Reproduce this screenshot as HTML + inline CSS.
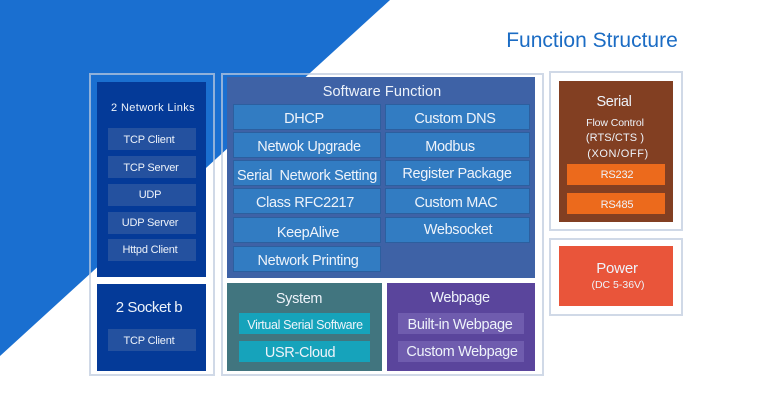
<!DOCTYPE html>
<html>
<head>
<meta charset="utf-8">
<style>
html,body{margin:0;padding:0;background:#fff;}
#c{position:relative;width:760px;height:401px;overflow:hidden;background:#fff;font-family:"Liberation Sans",sans-serif;color:#eef3fa;}
#c svg{position:absolute;left:0;top:0;}
.b,.t{position:absolute;box-sizing:border-box;}
.t{white-space:nowrap;text-align:center;transform:translateX(-50%);line-height:1;}
.l{font-size:14.5px;letter-spacing:-.33px;}
.m{font-size:11px;letter-spacing:-.2px;}
.o{border:2px solid rgba(190,203,222,.72);}
.d{background:#043a98;}
.s{background:#24519f;}
.c{background:#327cc2;border:1px solid #2c5f9f;}
.y{background:#16a3bb;}
.w{background:#6f5cae;}
.r{background:#ec6a1c;}
</style>
</head>
<body>
<div id="c">
<svg width="760" height="401"><polygon points="0,0 390,0 0,356" fill="#1a6fd0"/></svg>

<div class="t" style="left:592px;top:30px;font-size:21px;color:#1b6cc4;">Function Structure</div>

<div class="b o" style="left:89px;top:73px;width:126px;height:303px;"></div>
<div class="b o" style="left:221px;top:73px;width:323px;height:303px;"></div>
<div class="b o" style="left:549px;top:71px;width:134px;height:160px;"></div>
<div class="b o" style="left:549px;top:238px;width:134px;height:78px;"></div>

<div class="b d" style="left:97px;top:82px;width:109px;height:195px;"></div>
<div class="t" style="left:153px;top:103px;font-size:11px;letter-spacing:.38px;">2 Network Links</div>
<div class="b s" style="left:108px;top:128px;width:88px;height:22px;"></div>
<div class="t m" style="left:149px;top:135px;">TCP Client</div>
<div class="b s" style="left:108px;top:156px;width:88px;height:22px;"></div>
<div class="t m" style="left:151px;top:163px;">TCP Server</div>
<div class="b s" style="left:108px;top:184px;width:88px;height:22px;"></div>
<div class="t m" style="left:150px;top:190px;">UDP</div>
<div class="b s" style="left:108px;top:212px;width:88px;height:22px;"></div>
<div class="t m" style="left:150px;top:218px;">UDP Server</div>
<div class="b s" style="left:108px;top:239px;width:88px;height:22px;"></div>
<div class="t m" style="left:150px;top:245px;">Httpd Client</div>

<div class="b d" style="left:97px;top:284px;width:109px;height:87px;"></div>
<div class="t" style="left:149px;top:300px;font-size:15px;letter-spacing:-.45px;">2 Socket b</div>
<div class="b s" style="left:108px;top:329px;width:88px;height:22px;"></div>
<div class="t m" style="left:149px;top:336px;">TCP Client</div>

<div class="b" style="left:227px;top:77px;width:308px;height:201px;background:#3e62a6;"></div>
<div class="t" style="left:382px;top:85px;font-size:14.5px;letter-spacing:.1px;">Software Function</div>

<div class="b c" style="left:233px;top:104px;width:148px;height:26px;"></div>
<div class="t l" style="left:304px;top:112px;">DHCP</div>
<div class="b c" style="left:233px;top:132px;width:148px;height:26px;"></div>
<div class="t l" style="left:309px;top:140px;">Netwok Upgrade</div>
<div class="b c" style="left:233px;top:160px;width:148px;height:26px;"></div>
<div class="t l" style="left:307px;top:169px;white-space:pre;">Serial  Network Setting</div>
<div class="b c" style="left:233px;top:188px;width:148px;height:26px;"></div>
<div class="t l" style="left:305px;top:196px;">Class RFC2217</div>
<div class="b c" style="left:233px;top:217px;width:148px;height:26px;"></div>
<div class="t l" style="left:308px;top:226px;">KeepAlive</div>
<div class="b c" style="left:233px;top:246px;width:148px;height:26px;"></div>
<div class="t l" style="left:308px;top:254px;">Network Printing</div>

<div class="b c" style="left:385px;top:104px;width:145px;height:26px;"></div>
<div class="t l" style="left:455px;top:112px;">Custom DNS</div>
<div class="b c" style="left:385px;top:132px;width:145px;height:26px;"></div>
<div class="t l" style="left:450px;top:140px;">Modbus</div>
<div class="b c" style="left:385px;top:160px;width:145px;height:26px;"></div>
<div class="t l" style="left:457px;top:167px;">Register Package</div>
<div class="b c" style="left:385px;top:188px;width:145px;height:26px;"></div>
<div class="t l" style="left:456px;top:196px;">Custom MAC</div>
<div class="b c" style="left:385px;top:217px;width:145px;height:26px;"></div>
<div class="t l" style="left:458px;top:223px;">Websocket</div>

<div class="b" style="left:227px;top:283px;width:155px;height:88px;background:#41757f;"></div>
<div class="t l" style="left:299px;top:292px;">System</div>
<div class="b y" style="left:239px;top:313px;width:131px;height:21px;"></div>
<div class="t" style="left:305px;top:319px;font-size:12.5px;letter-spacing:-.35px;">Virtual Serial Software</div>
<div class="b y" style="left:239px;top:341px;width:131px;height:21px;"></div>
<div class="t l" style="left:300px;top:346px;">USR-Cloud</div>

<div class="b" style="left:387px;top:283px;width:148px;height:88px;background:#5a459c;"></div>
<div class="t l" style="left:460px;top:291px;">Webpage</div>
<div class="b w" style="left:398px;top:313px;width:126px;height:21px;"></div>
<div class="t l" style="left:460px;top:318px;">Built-in Webpage</div>
<div class="b w" style="left:398px;top:341px;width:126px;height:21px;"></div>
<div class="t l" style="left:462px;top:345px;">Custom Webpage</div>

<div class="b" style="left:559px;top:81px;width:114px;height:141px;background:#823f22;"></div>
<div class="t l" style="left:614px;top:95px;">Serial</div>
<div class="t" style="left:615px;top:118px;font-size:10.5px;letter-spacing:-.1px;">Flow Control</div>
<div class="t" style="left:615px;top:133px;font-size:11px;letter-spacing:.1px;">(RTS/CTS )</div>
<div class="t" style="left:618px;top:149px;font-size:11px;letter-spacing:.6px;">(XON/OFF)</div>
<div class="b r" style="left:567px;top:164px;width:98px;height:21px;"></div>
<div class="t m" style="left:617px;top:170px;">RS232</div>
<div class="b r" style="left:567px;top:193px;width:98px;height:21px;"></div>
<div class="t m" style="left:617px;top:200px;">RS485</div>

<div class="b" style="left:559px;top:246px;width:114px;height:60px;background:#e9553a;"></div>
<div class="t" style="left:617px;top:261px;font-size:15px;letter-spacing:-.2px;">Power</div>
<div class="t" style="left:618px;top:280px;font-size:10.5px;">(DC 5-36V)</div>
</div>
</body>
</html>
